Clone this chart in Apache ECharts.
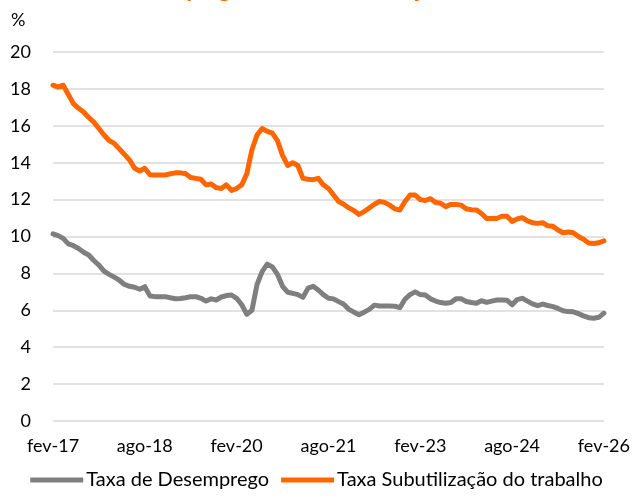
<!DOCTYPE html>
<html>
<head>
<meta charset="utf-8">
<script src="https://cdn.jsdelivr.net/npm/echarts@6/dist/echarts.min.js"></script>
<style>
  html, body { margin: 0; padding: 0; background: #fff; }
  #chart { width: 633px; height: 498px; }
</style>
</head>
<body>
<div id="chart"></div>
<script>
// meses fev-17 .. fev-26 (mensal)
const monthNames = ['jan','fev','mar','abr','mai','jun','jul','ago','set','out','nov','dez'];
const startYear = 2017, startMonth = 1, nMonths = 109;

const desemprego = [
  10.14, 10.05, 9.9, 9.6, 9.5, 9.35, 9.15, 9.0, 8.7, 8.45,
  8.12, 7.95, 7.8, 7.63, 7.4, 7.3, 7.25, 7.14, 7.28, 6.78,
  6.74, 6.74, 6.74, 6.68, 6.63, 6.64, 6.68, 6.74, 6.74, 6.65,
  6.5, 6.62, 6.56, 6.72, 6.8, 6.83, 6.65, 6.3, 5.78, 6.0,
  7.4, 8.1, 8.5, 8.35, 7.95, 7.3, 6.98, 6.92, 6.85, 6.7,
  7.2, 7.3, 7.1, 6.85, 6.65, 6.62, 6.47, 6.33, 6.05, 5.9,
  5.76, 5.9, 6.05, 6.28, 6.23, 6.23, 6.23, 6.22, 6.14, 6.6,
  6.85, 7.0, 6.85, 6.83, 6.62, 6.5, 6.42, 6.38, 6.42, 6.62,
  6.63, 6.48, 6.42, 6.38, 6.52, 6.43, 6.5, 6.56, 6.56, 6.55,
  6.3, 6.58, 6.65, 6.5, 6.35, 6.25, 6.34, 6.26, 6.2, 6.1,
  5.98, 5.93, 5.92, 5.82, 5.7, 5.6, 5.57, 5.62, 5.85
];

const subutilizacao = [
  18.2, 18.1, 18.2, 17.7, 17.2, 16.95, 16.75, 16.45, 16.2, 15.85,
  15.5, 15.2, 15.05, 14.75, 14.45, 14.15, 13.7, 13.55, 13.7, 13.35,
  13.33, 13.33, 13.33, 13.4, 13.45, 13.45, 13.4, 13.2, 13.15, 13.1,
  12.8, 12.85, 12.65, 12.6, 12.8, 12.5, 12.6, 12.8, 13.4, 14.7,
  15.5, 15.85, 15.7, 15.6, 15.2, 14.4, 13.85, 14.0, 13.85, 13.15,
  13.1, 13.08, 13.15, 12.8, 12.6, 12.25, 11.9, 11.75, 11.55, 11.4,
  11.2, 11.35, 11.55, 11.75, 11.9, 11.85, 11.7, 11.5, 11.44, 11.9,
  12.25, 12.25, 12.0, 11.95, 12.05, 11.85, 11.8, 11.62, 11.74, 11.74,
  11.7, 11.5, 11.45, 11.44, 11.25, 10.98, 10.98, 10.98, 11.1, 11.1,
  10.82, 10.95, 11.02, 10.85, 10.75, 10.71, 10.75, 10.58, 10.55, 10.35,
  10.2, 10.24, 10.2, 10.0, 9.85, 9.65, 9.62, 9.66, 9.76
];

const seriesNames = ['Taxa de Desemprego', 'Taxa Subutilização do trabalho'];
const colors = ['#7f7f7f', '#ff6600'];
const titleText = 'Taxa de Desemprego e Taxa Subutilização do Trabalho';

let categories = [];
for (let i = 0; i < nMonths; i++) {
  let m = (startMonth + i) % 12;
  let y = startYear + Math.floor((startMonth + i) / 12);
  categories.push(monthNames[m] + '-' + String(y).slice(2));
}

const FONT = 'Lato, "Liberation Sans", sans-serif';

const myChart = echarts.init(document.getElementById('chart'), null, {renderer: 'canvas'});

myChart.setOption({
  animation: false,
  backgroundColor: '#fff',
  color: colors,
  textStyle: { fontFamily: FONT },
  graphic: [
    { // titulo cortado no topo
      type: 'text', x: 302, y: -21,
      style: { text: titleText, font: 'bold 22px ' + FONT, fill: '#ff6600', textAlign: 'center' }
    },
    {
      type: 'text', left: 11, top: 11,
      style: { text: '%', font: '18px ' + FONT, fill: '#000' }
    }
  ],
  grid: { left: 53, right: 29, top: 52, bottom: 77 },
  legend: {
    bottom: 3,
    left: 'center',
    icon: 'rect',
    itemWidth: 53,
    itemHeight: 5,
    itemGap: 12,
    textStyle: { fontSize: 20, color: '#000', fontFamily: FONT, padding: [0, 0, 0, -2] },
    data: seriesNames
  },
  xAxis: {
    type: 'category',
    data: categories,
    boundaryGap: false,
    axisLine: { show: false },
    axisTick: { show: false },
    axisLabel: { interval: 17, margin: 16, fontSize: 18, color: '#000', fontFamily: FONT },
    splitLine: { show: false }
  },
  yAxis: {
    type: 'value',
    min: 0, max: 20, interval: 2,
    axisLine: { show: false },
    axisTick: { show: false },
    axisLabel: { margin: 22, fontSize: 18, color: '#000', fontFamily: FONT },
    splitLine: { lineStyle: { color: '#d9d9d9', width: 1.5 } }
  },
  series: [
    {
      name: seriesNames[0], type: 'line', data: desemprego,
      symbol: 'none', smooth: false,
      lineStyle: { width: 5, color: colors[0], cap: 'round', join: 'round' }
    },
    {
      name: seriesNames[1], type: 'line', data: subutilizacao,
      symbol: 'none', smooth: false,
      lineStyle: { width: 5, color: colors[1], cap: 'round', join: 'round' }
    }
  ]
});
</script>
</body>
</html>
